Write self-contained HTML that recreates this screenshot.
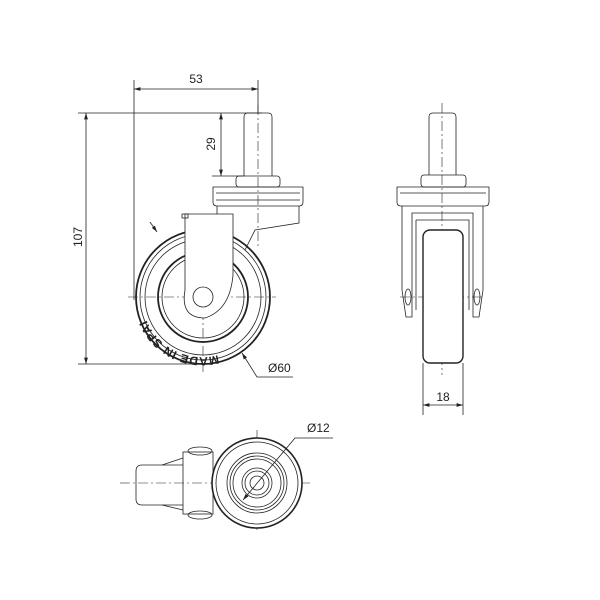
<!DOCTYPE html>
<html><head><style>html,body{margin:0;padding:0;background:#fff}svg{display:block}text{font-family:"Liberation Sans",sans-serif;font-size:12px;fill:#222}</style></head><body>
<svg width="600" height="600" viewBox="0 0 600 600" xmlns="http://www.w3.org/2000/svg">
<defs><marker id="a" viewBox="0 0 10 6" refX="10" refY="3" markerWidth="8" markerHeight="5" orient="auto-start-reverse"><path d="M0,0L10,3L0,6z" fill="#222"/></marker>
<path id="arc" d="M218,355A60,60 0 0 1 145,316"/></defs>
<g fill="none" stroke="#222" stroke-width="0.8">
<line x1="134" y1="80" x2="134" y2="300"/>
<line x1="258" y1="80" x2="258" y2="113"/>
<line x1="134" y1="89" x2="258" y2="89" marker-start="url(#a)" marker-end="url(#a)"/>
<line x1="78" y1="113" x2="262" y2="113"/>
<line x1="78" y1="364" x2="200" y2="364"/>
<line x1="86" y1="113" x2="86" y2="364" marker-start="url(#a)" marker-end="url(#a)"/>
<line x1="221" y1="113" x2="221" y2="176" marker-start="url(#a)" marker-end="url(#a)"/>
<line x1="212" y1="176" x2="244" y2="176"/>
<g stroke-dasharray="10,3,2,3" stroke-width="0.6">
<line x1="258" y1="105" x2="258" y2="248"/>
<line x1="203" y1="220" x2="203" y2="372"/>
<line x1="128" y1="297" x2="276" y2="297"/>
<line x1="442" y1="103" x2="442" y2="375"/>
<line x1="400" y1="297" x2="484" y2="297"/>
<line x1="120" y1="483" x2="310" y2="483"/>
<line x1="257" y1="430" x2="257" y2="532"/>
</g>
<path d="M244,176V117Q244,113 248,113H268Q272,113 272,117V176"/>
<rect x="236" y="176" width="44" height="11" rx="3"/>
<path d="M213,187H303V202Q303,206 299,206H217Q213,206 213,202Z"/>
<line x1="216" y1="193" x2="300" y2="193"/><line x1="216" y1="200" x2="300" y2="200"/>
<path d="M217,206V214M299,206V223L255,230L245,250"/>
<circle cx="203" cy="297" r="67" stroke-width="1.8"/>
<circle cx="203" cy="297" r="63"/>
<circle cx="203" cy="297" r="58"/>
<circle cx="203" cy="297" r="45" stroke-width="1.8"/>
<circle cx="203" cy="297" r="41"/>
<path d="M185,214H233V275Q230,310 205,318Q180,318 185,290Z" fill="#fff"/>
<rect x="182" y="214" width="6" height="4"/>
<circle cx="203" cy="297" r="10"/>
<line x1="150" y1="222" x2="157" y2="232" marker-end="url(#a)"/>
<polyline points="293,377 257,377 242,353" marker-end="url(#a)"/>
<path d="M429,175V117Q429,113 433,113H452Q456,113 456,117V175"/>
<rect x="421" y="175" width="45" height="12" rx="3"/>
<path d="M397,187H489V202Q489,206 485,206H401Q397,206 397,202Z"/>
<line x1="400" y1="193" x2="486" y2="193"/>
<path d="M402,206V290L406,317H412V213H473V317H479L483,290V206"/>
<path d="M416,220H469V310"/><path d="M416,220V310"/>
<rect x="423" y="230" width="40" height="133" rx="7" fill="#fff" stroke-width="1.4"/>
<ellipse cx="408" cy="297" rx="3" ry="8"/><ellipse cx="477" cy="297" rx="3" ry="8"/>
<line x1="423" y1="363" x2="423" y2="415"/><line x1="463" y1="363" x2="463" y2="415"/>
<line x1="423" y1="405" x2="463" y2="405" marker-start="url(#a)" marker-end="url(#a)"/>
<path d="M183,465H142Q136,465 136,471V499Q136,505 142,505H183"/>
<path d="M162,465L183,458M162,505L183,510"/>
<rect x="183" y="452" width="30" height="62"/>
<ellipse cx="200" cy="451" rx="12" ry="4"/><ellipse cx="200" cy="515" rx="12" ry="4"/>
<circle cx="257" cy="483" r="45" fill="#fff" stroke-width="1.6"/>
<circle cx="257" cy="483" r="41"/>
<circle cx="257" cy="483" r="30"/>
<circle cx="257" cy="483" r="27"/>
<circle cx="257" cy="483" r="24"/>
<circle cx="257" cy="483" r="15"/>
<circle cx="257" cy="483" r="12"/>
<circle cx="257" cy="483" r="7"/>
<polyline points="333,438 295,438 243,500" marker-end="url(#a)"/>
</g>
<text x="196" y="83" text-anchor="middle">53</text>
<text transform="translate(82,237) rotate(-90)" text-anchor="middle">107</text>
<text transform="translate(215,144) rotate(-90)" text-anchor="middle">29</text>
<text x="268" y="372">Ø60</text>
<text x="443" y="401" text-anchor="middle">18</text>
<text x="307" y="432">Ø12</text>
<text font-size="5.5" font-weight="bold" letter-spacing="0.5"><textPath href="#arc">MADE IN SPAIN</textPath></text>
</svg>
</body></html>
